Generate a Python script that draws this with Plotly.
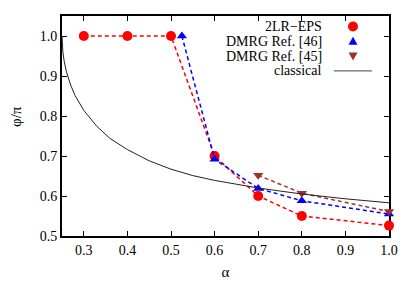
import plotly.graph_objects as go

# 2LR-EPS
eps_alpha = [0.3, 0.4, 0.5, 0.6, 0.7, 0.8, 1.0]
eps_phi = [1.0, 1.0, 1.0, 0.700, 0.600, 0.550, 0.526]
# DMRG Ref. [46]
d46_alpha = [0.525, 0.6, 0.7, 0.8, 1.0]
d46_phi = [1.0, 0.692, 0.619, 0.588, 0.555]
# DMRG Ref. [45]
d45_alpha = [0.7, 0.8, 1.0]
d45_phi = [0.652, 0.607, 0.561]
# classical
cl_alpha = [0.25, 0.252, 0.255, 0.26, 0.27, 0.28, 0.30, 0.33, 0.36, 0.40, 0.45, 0.50,
            0.55, 0.60, 0.70, 0.80, 0.90, 1.00]
cl_phi = [1.0, 0.960, 0.937, 0.911, 0.877, 0.851, 0.814, 0.774, 0.744, 0.716, 0.688, 0.667,
          0.651, 0.639, 0.620, 0.605, 0.593, 0.583]

labels = ["2LR\u2212EPS", "DMRG Ref. [46]", "DMRG Ref. [45]", "classical"]
x_ticks = [0.3, 0.4, 0.5, 0.6, 0.7, 0.8, 0.9, 1.0]
y_ticks = [0.5, 0.6, 0.7, 0.8, 0.9, 1.0]
x_title = "\u03b1"
y_title = "\u03c6/\u03c0"

FONT = "Liberation Serif, Times New Roman, serif"
RED, BLUE, BROWN = "#ff0000", "#0000ff", "#a0302c"
DASH = "4px,3px"

fig = go.Figure()
fig.add_trace(go.Scatter(x=eps_alpha, y=eps_phi, mode="lines+markers", name=labels[0],
                         line=dict(color=RED, width=1.5, dash=DASH),
                         marker=dict(symbol="circle", size=10, color=RED),
                         cliponaxis=False))
fig.add_trace(go.Scatter(x=d46_alpha, y=d46_phi, mode="lines+markers", name=labels[1],
                         line=dict(color=BLUE, width=1.5, dash=DASH),
                         marker=dict(symbol="triangle-up", size=9, color=BLUE),
                         cliponaxis=False))
fig.add_trace(go.Scatter(x=d45_alpha, y=d45_phi, mode="lines+markers", name=labels[2],
                         line=dict(color=BROWN, width=1.5, dash=DASH),
                         marker=dict(symbol="triangle-down", size=9, color=BROWN),
                         cliponaxis=False))
fig.add_trace(go.Scatter(x=cl_alpha, y=cl_phi, mode="lines", name=labels[3],
                         line=dict(color="#222222", width=1), cliponaxis=False))

# page has an 8px body margin: figure is placed at (8, 8)
OFF = 8
L, T, W, H = 62, 16, 327, 220   # plot area in page pixels
def px(x):
    return (x - L) / W
def py(y):
    return (T + H - y) / H

rows = [26.5, 41.3, 56.1, 70.9]
ann = []
for lab, ry in zip(labels, rows):
    ann.append(dict(x=px(324), y=py(ry), xref="paper", yref="paper", text=lab,
                    showarrow=False, xanchor="right", yanchor="middle",
                    font=dict(family=FONT, size=14, color="black")))
# y-axis title
ann.append(dict(x=px(16), y=py(117), xref="paper", yref="paper", text=y_title,
                showarrow=False, xanchor="center", yanchor="middle", textangle=-90,
                font=dict(family=FONT, size=15, color="black")))
kx = 353
shapes = [
    dict(type="circle", xref="paper", yref="paper", xsizemode="pixel", ysizemode="pixel",
         xanchor=px(kx), yanchor=py(rows[0]), x0=-5, x1=5, y0=-5, y1=5,
         fillcolor=RED, line=dict(width=0)),
    dict(type="path", xref="paper", yref="paper", xsizemode="pixel", ysizemode="pixel",
         xanchor=px(kx), yanchor=py(rows[1]), path="M -4.5 -3.5 L 4.5 -3.5 L 0 4.5 Z",
         fillcolor=BLUE, line=dict(width=0)),
    dict(type="path", xref="paper", yref="paper", xsizemode="pixel", ysizemode="pixel",
         xanchor=px(kx), yanchor=py(rows[2]), path="M -4.5 3.5 L 4.5 3.5 L 0 -4.5 Z",
         fillcolor=BROWN, line=dict(width=0)),
    dict(type="line", xref="paper", yref="paper", x0=px(334), x1=px(372),
         y0=py(rows[3]), y1=py(rows[3]), line=dict(color="#444444", width=1)),
]

axis_common = dict(showline=True, linecolor="black", linewidth=2, mirror="allticks",
                   ticks="inside", ticklen=5, tickwidth=1, tickcolor="black",
                   showgrid=False, zeroline=False, layer="below traces", automargin=False,
                   tickfont=dict(family=FONT, size=14, color="black"))

fig.update_xaxes(range=[0.25, 1.0], tickvals=x_ticks, ticktext=[f"{v:.1f}" for v in x_ticks],
                 title=dict(text=x_title, font=dict(family=FONT, size=15, color="black"), standoff=10),
                 **axis_common)
fig.update_yaxes(range=[0.5, 1.05], tickvals=y_ticks, ticktext=[f"{v:.1f}" for v in y_ticks],
                 **axis_common)

fig.update_layout(
    width=415 - OFF, height=282 - OFF,
    margin=dict(l=L - OFF, r=415 - L - W, t=T - OFF, b=282 - T - H),
    paper_bgcolor="white", plot_bgcolor="white",
    showlegend=False,
    annotations=ann, shapes=shapes,
)

fig.write_html("out.html")
